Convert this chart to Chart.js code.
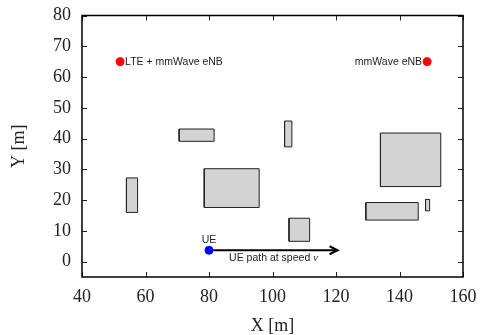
<!DOCTYPE html>
<html>
<head>
<meta charset="utf-8">
<script src="https://cdn.jsdelivr.net/npm/chart.js@4"></script>
<style>
  body { margin: 0; background: #fff; }
  #wrap { width: 483px; height: 335px; }
</style>
</head>
<body>
<div id="wrap"><canvas id="mapChart" width="483" height="335"></canvas></div>
<script>
// Tick labels
const xTicks = [40, 60, 80, 100, 120, 140, 160];
const yTicks = [0, 10, 20, 30, 40, 50, 60, 70, 80];

// Buildings (left, right, bottom, top) in metres
const bldX0 = [54.0, 70.6, 78.5, 103.8, 105.2, 134.0, 129.4, 148.2];
const bldX1 = [57.5, 81.6, 95.8, 106.1, 111.7, 153.0, 145.9, 149.5];
const bldY0 = [16.0, 39.1, 17.6, 37.3, 6.6, 24.4, 13.5, 16.5];
const bldY1 = [27.2, 43.1, 30.2, 45.7, 14.1, 41.8, 19.2, 20.2];

// Base stations
const enbX = [52, 148.7];
const enbY = [65, 65];
const enbLabels = ['LTE + mmWave eNB', 'mmWave eNB'];

// UE and its path
const ueX = [80];
const ueY = [3.7];
const pathX = [80, 120.5];
const pathY = [3.7, 3.7];

const datasets = [];

datasets.push({
  label: 'eNB',
  data: enbX.map((x, i) => ({ x: x, y: enbY[i] })),
  backgroundColor: '#ff0000',
  borderColor: '#ff0000',
  pointRadius: 4,
  showLine: false,
  order: 0
});
datasets.push({
  label: 'UE',
  data: ueX.map((x, i) => ({ x: x, y: ueY[i] })),
  backgroundColor: '#0000ff',
  borderColor: '#0000ff',
  pointRadius: 4,
  showLine: false,
  order: 0
});
datasets.push({
  label: 'path',
  data: pathX.map((x, i) => ({ x: x, y: pathY[i] })),
  borderColor: '#000',
  borderWidth: 2,
  pointRadius: 0,
  showLine: true,
  order: 1
});
for (let i = 0; i < bldX0.length; i++) {
  datasets.push({
    label: 'bld' + i,
    data: [
      { x: bldX0[i], y: bldY0[i] },
      { x: bldX1[i], y: bldY0[i] },
      { x: bldX1[i], y: bldY1[i] },
      { x: bldX0[i], y: bldY1[i] },
      { x: bldX0[i], y: bldY0[i] }
    ],
    showLine: true,
    fill: 'shape',
    backgroundColor: '#d3d3d3',
    borderColor: '#222',
    borderWidth: 1,
    pointRadius: 0,
    tension: 0,
    order: 2
  });
}

// frame, inward ticks, labels and arrow head
const decor = {
  id: 'decor',
  afterDatasetsDraw(chart) {
    const c = chart.ctx;
    const a = chart.chartArea;
    const xs = chart.scales.x, ys = chart.scales.y;
    c.save();
    c.strokeStyle = '#222';
    c.lineWidth = 1;
    xTicks.forEach(v => {
      const px = Math.round(xs.getPixelForValue(v)) + 0.5;
      c.beginPath();
      c.moveTo(px, a.bottom); c.lineTo(px, a.bottom - 5);
      c.moveTo(px, a.top); c.lineTo(px, a.top + 5);
      c.stroke();
    });
    yTicks.forEach(v => {
      const py = Math.round(ys.getPixelForValue(v)) + 0.5;
      c.beginPath();
      c.moveTo(a.left, py); c.lineTo(a.left + 5, py);
      c.moveTo(a.right, py); c.lineTo(a.right - 5, py);
      c.stroke();
    });
    c.lineWidth = 1.5;
    c.strokeStyle = '#000';
    c.strokeRect(a.left, a.top, a.right - a.left, a.bottom - a.top);

    // arrow head at end of path
    const ex = xs.getPixelForValue(pathX[1]);
    const ey = ys.getPixelForValue(pathY[1]);
    c.lineWidth = 2;
    c.beginPath();
    c.moveTo(ex - 8, ey - 4); c.lineTo(ex, ey); c.lineTo(ex - 8, ey + 4);
    c.stroke();

    // text labels
    const sans = '10.5px "Liberation Sans", Arial, sans-serif';
    const ital = 'italic 10.5px "Liberation Serif", serif';
    c.fillStyle = '#222';
    c.font = sans;
    c.textBaseline = 'middle';
    c.textAlign = 'left';
    c.fillText(enbLabels[0], xs.getPixelForValue(enbX[0]) + 5, ys.getPixelForValue(enbY[0]));
    c.textAlign = 'right';
    c.fillText(enbLabels[1], xs.getPixelForValue(enbX[1]) - 5, ys.getPixelForValue(enbY[1]));
    c.textAlign = 'center';
    c.fillText('UE', xs.getPixelForValue(ueX[0]), ys.getPixelForValue(ueY[0]) - 10);
    const tx = xs.getPixelForValue(100.3);
    const ty = ys.getPixelForValue(pathY[0]) + 8;
    const main = 'UE path at speed ';
    c.textAlign = 'left';
    const w1 = c.measureText(main).width;
    c.font = ital;
    const w2 = c.measureText('v').width;
    const sx = tx - (w1 + w2) / 2;
    c.font = sans;
    c.fillText(main, sx, ty);
    c.font = ital;
    c.fillText('v', sx + w1, ty);
    c.restore();
  }
};

const serif = { family: '"Liberation Serif", "Times New Roman", serif', size: 18, lineHeight: 1 };
const serifTight = { family: '"Liberation Serif", "Times New Roman", serif', size: 18, lineHeight: 0.5 };

new Chart(document.getElementById('mapChart').getContext('2d'), {
  type: 'scatter',
  data: { datasets: datasets },
  options: {
    responsive: false,
    animation: false,
    layout: { padding: { left: 10, right: 4, top: 0, bottom: 0 } },
    plugins: { legend: { display: false }, tooltip: { enabled: false } },
    scales: {
      x: {
        type: 'linear',
        min: 40, max: 160,
        afterBuildTicks: s => { s.ticks = xTicks.map(v => ({ value: v })); },
        afterFit: s => { s.paddingRight = 20; },
        grid: { display: false, drawTicks: false },
        border: { display: false },
        ticks: { color: '#222', font: serif, padding: 11, maxRotation: 0 },
        title: { display: true, text: 'X [m]', color: '#222', font: serif, padding: { top: 0, bottom: 0 } }
      },
      y: {
        type: 'linear',
        min: -5, max: 80,
        afterBuildTicks: s => { s.ticks = yTicks.map(v => ({ value: v })); },
        grid: { display: false, drawTicks: false },
        border: { display: false },
        ticks: { color: '#222', font: serifTight, padding: 11 },
        title: { display: true, text: 'Y [m]', color: '#222', font: serif, padding: { top: 0, bottom: 14 } }
      }
    }
  },
  plugins: [decor]
});
</script>
</body>
</html>
